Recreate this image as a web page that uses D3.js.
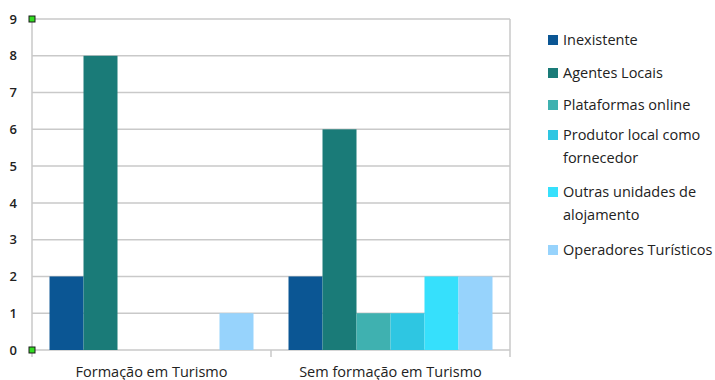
<!DOCTYPE html>
<html>
<head>
<meta charset="utf-8">
<script src="https://cdn.jsdelivr.net/npm/d3@7"></script>
<style>
  html, body { margin: 0; padding: 0; background: #fff; }
  svg { display: block; font-family: "Open Sans", sans-serif; }
</style>
</head>
<body>
<svg id="chart" width="715" height="380"></svg>
<script>
// Categories along the x axis
const categories = ["Formação em Turismo", "Sem formação em Turismo"];

// One series per legend entry
const seriesNames = [
  "Inexistente",
  "Agentes Locais",
  "Plataformas online",
  "Produtor local como fornecedor",
  "Outras unidades de alojamento",
  "Operadores Turísticos"
];
const seriesColors = ["#0b5694", "#1a7b78", "#3fb1b0", "#2ec6e2", "#36e0fc", "#97d3fc"];

// Values per series, in category order
const inexistente    = [2, 2];
const agentesLocais  = [8, 6];
const plataformas    = [0, 1];
const produtorLocal  = [0, 1];
const outrasUnidades = [0, 2];
const operadores     = [1, 2];
const seriesValues = [inexistente, agentesLocais, plataformas, produtorLocal, outrasUnidades, operadores];

// Legend lines (wrapped labels)
const legendLines = [
  ["Inexistente"],
  ["Agentes Locais"],
  ["Plataformas online"],
  ["Produtor local como", "fornecedor"],
  ["Outras unidades de", "alojamento"],
  ["Operadores Turísticos"]
];

const yTicks = [0, 1, 2, 3, 4, 5, 6, 7, 8, 9];

const svg = d3.select("#chart");
const plot = { left: 32, right: 510, top: 19, bottom: 350 };

const x0 = d3.scaleBand().domain(categories).range([plot.left, plot.right]).paddingInner(0).paddingOuter(0);
const x1 = d3.scaleBand().domain(seriesNames).range([0, x0.bandwidth()]).paddingInner(0).paddingOuter(0.515);
const y = d3.scaleLinear().domain([0, 9]).range([plot.bottom, plot.top]);

// Horizontal gridlines
svg.append("g").selectAll("line").data(yTicks).join("line")
  .attr("x1", plot.left).attr("x2", plot.right)
  .attr("y1", d => y(d)).attr("y2", d => y(d))
  .attr("stroke", "#c9c9c9").attr("stroke-width", 1.5);

// Plot frame: left and right edges
[plot.left, plot.right].forEach(xx => {
  svg.append("line").attr("x1", xx).attr("x2", xx)
    .attr("y1", plot.top).attr("y2", plot.bottom + 7)
    .attr("stroke", "#c9c9c9").attr("stroke-width", 1.5);
});

// Category boundary ticks below the axis
const boundaries = [x0(categories[1])];
svg.append("g").selectAll("line").data(boundaries).join("line")
  .attr("x1", d => d).attr("x2", d => d)
  .attr("y1", plot.bottom).attr("y2", plot.bottom + 7)
  .attr("stroke", "#c9c9c9").attr("stroke-width", 1.5);

// Bars
const groups = svg.append("g").selectAll("g").data(categories).join("g")
  .attr("transform", d => `translate(${x0(d)},0)`);
groups.selectAll("rect")
  .data((c, ci) => seriesNames.map((s, si) => ({ s, si, v: seriesValues[si][ci] })))
  .join("rect")
  .attr("x", d => x1(d.s))
  .attr("width", x1.bandwidth())
  .attr("y", d => y(d.v))
  .attr("height", d => y(0) - y(d.v))
  .attr("fill", d => seriesColors[d.si]);

// Y axis labels
svg.append("g").selectAll("text").data(yTicks).join("text")
  .attr("x", 17).attr("y", d => y(d))
  .attr("dy", "0.36em")
  .attr("text-anchor", "end")
  .attr("font-size", 13)
  .attr("font-weight", 600)
  .attr("fill", "#222")
  .text(d => d);

// Selection handles at the ends of the value axis
svg.append("g").selectAll("rect").data([9, 0]).join("rect")
  .attr("x", plot.left - 3).attr("y", d => y(d) - 3)
  .attr("width", 6).attr("height", 6)
  .attr("fill", "#33dd22").attr("stroke", "#1a1a1a").attr("stroke-width", 1);

// Category labels
svg.append("g").selectAll("text").data(categories).join("text")
  .attr("x", d => x0(d) + x0.bandwidth() / 2)
  .attr("y", 376.5)
  .attr("text-anchor", "middle")
  .attr("font-size", 14.5)
  .attr("fill", "#222")
  .text(d => d);

// Legend
const legendRowY = [40, 73, 105, 135, 192, 250];
const legend = svg.append("g").selectAll("g").data(seriesNames).join("g")
  .attr("transform", (d, i) => `translate(548,${legendRowY[i]})`);
legend.append("rect")
  .attr("x", 0).attr("y", -5).attr("width", 10).attr("height", 10)
  .attr("fill", (d, i) => seriesColors[i]);
legend.each(function (d, i) {
  const t = d3.select(this).append("text")
    .attr("x", 15).attr("y", 0)
    .attr("font-size", 14.5)
    .attr("fill", "#222");
  legendLines[i].forEach((line, li) => {
    t.append("tspan").attr("x", 15).attr("dy", li === 0 ? "0.35em" : "1.55em").text(line);
  });
});
</script>
</body>
</html>
